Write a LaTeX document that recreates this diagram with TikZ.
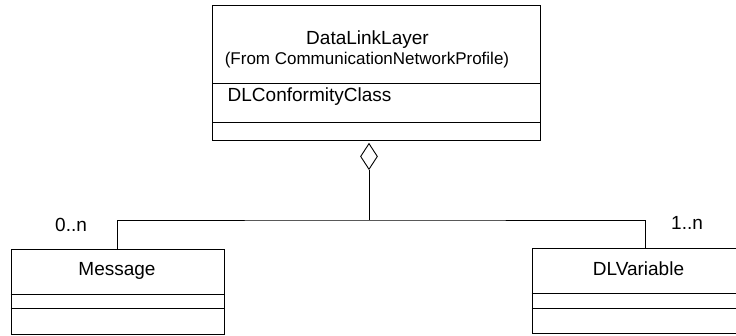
\documentclass[tikz,border=0pt]{standalone}
\usepackage{fontspec}
\setmainfont{Liberation Sans}
\usetikzlibrary{shapes.geometric}
\tikzset{
  umlbox/.style={draw, line width=0.9pt, rectangle, inner sep=0pt},
  sepline/.style={line width=0.9pt},
  conn/.style={line width=0.9pt},
  big/.style={font=\fontsize{19}{22}\selectfont, inner sep=0pt},
  small/.style={font=\fontsize{17}{20}\selectfont, inner sep=0pt},
}
\begin{document}
\begin{tikzpicture}[x=1pt,y=-1pt]
\useasboundingbox (0,0) rectangle (736,336);
% top class
\node[umlbox, minimum width=328pt, minimum height=135pt] (dll) at (376.7,73.2) {};
\draw[sepline] (dll.west |- 0,83.3) -- (dll.east |- 0,83.3);
\draw[sepline] (dll.west |- 0,122.3) -- (dll.east |- 0,122.3);
\node[big, anchor=base] (dlltitle) at (367.5,45) {DataLinkLayer};
\node[small, anchor=base] (dllfrom) at (367,64.5) {(From CommunicationNetworkProfile)};
\node[big, anchor=base west] (dllattr) at (227.5,101.7) {DLConformityClass};
% Message class
\node[umlbox, minimum width=213pt, minimum height=85pt] (msg) at (117.5,291.5) {};
\draw[sepline] (msg.west |- 0,294) -- (msg.east |- 0,294);
\draw[sepline] (msg.west |- 0,308) -- (msg.east |- 0,308);
\node[big, anchor=base] (msgname) at (117,276) {Message};
% DLVariable class
\node[umlbox, minimum width=213pt, minimum height=85pt] (dlv) at (638.5,291) {};
\draw[sepline] (dlv.west |- 0,293.5) -- (dlv.east |- 0,293.5);
\draw[sepline] (dlv.west |- 0,308) -- (dlv.east |- 0,308);
\node[big, anchor=base] (dlvname) at (638.5,275.5) {DLVariable};
% aggregation
\node[draw, line width=0.9pt, diamond, inner sep=0pt, minimum width=17pt, minimum height=26pt, anchor=north, fill=white] (agg) at (369,143) {};
\coordinate (j) at (369,220);
\coordinate (dlvc) at (645.5,248.5);
\draw[conn] (agg.south) -- (j);
\draw[conn] (msg.north) |- (j) -| (dlvc);
% multiplicities
\node[big, anchor=base west] (m0) at (55,232) {0..n};
\node[big, anchor=base west] (m1) at (671,230) {1..n};
\end{tikzpicture}
\end{document}
